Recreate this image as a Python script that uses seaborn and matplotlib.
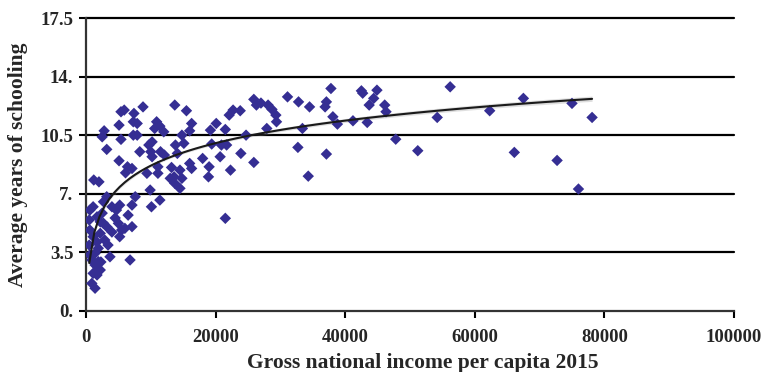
import matplotlib
matplotlib.use("Agg")
import matplotlib.pyplot as plt
import seaborn as sns
import pandas as pd

# Gross national income per capita 2015 (USD) and average years of schooling
gni = [
    62300, 67500, 75000, 78100, 66100, 72700, 76000, 56200, 54200, 51200,
    47800, 46100, 46300, 44900, 44400, 43700, 42500, 42700, 43400, 41200,
    38800, 38100, 37800, 37100, 36900, 37100, 34300, 32700, 33400, 34500,
    32800, 31100, 25900, 26300, 28100, 28700, 29300, 29400, 27900, 25900,
    27000, 15500, 16300, 16000, 14800, 20100, 19200, 21500, 22100, 22700,
    23800, 24700, 19400, 20900, 21700, 23900, 20700, 18000, 16000, 16300,
    19000, 18900, 22300, 14800, 14500, 21500, 15100, 13700, 5400, 5900,
    7400, 8800, 5100, 7300, 7900, 2800, 2500, 5400, 7300, 7900,
    3200, 10200, 10900, 11400, 12000, 8300, 9700, 10000, 10200, 11500,
    12100, 13800, 14100, 11100, 11100, 13200, 13600, 5100, 6100, 7100,
    6400, 2000, 1200, 13000, 13700, 9400, 9900, 11400, 10100, 7600,
    7100, 5200, 4700, 3200, 2700, 4000, 600, 1100, 1700, 2200,
    2700, 3200, 5000, 5500, 6000, 7100, 5200, 2200, 2900, 3400,
    1100, 600, 1400, 1900, 3700, 6800, 900, 1400, 1900, 2200,
    1100, 1700, 900, 1400, 500, 500, 600, 2500, 4000, 4500,
    6500, 2300, 1700, 14500, 10600,
]
schooling = [
    11.97, 12.71, 12.41, 11.57, 9.48, 9.00, 7.29, 13.40, 11.57, 9.58,
    10.27, 12.31, 11.91, 13.20, 12.71, 12.31, 13.16, 13.02, 11.27, 11.37,
    11.17, 11.61, 13.30, 12.50, 12.20, 9.38, 8.06, 9.78, 10.91, 12.20,
    12.50, 12.80, 12.65, 12.31, 12.31, 12.05, 11.71, 11.31, 10.91, 8.88,
    12.43, 11.97, 11.21, 10.77, 10.51, 11.21, 10.81, 10.85, 11.71, 12.01,
    11.97, 10.51, 9.98, 9.92, 9.92, 9.42, 9.22, 9.12, 8.82, 8.52,
    8.62, 8.02, 8.42, 7.93, 7.33, 5.54, 10.02, 12.31, 11.91, 12.01,
    11.81, 12.20, 11.11, 11.31, 11.21, 10.77, 10.41, 10.26, 10.51, 10.51,
    9.66, 10.11, 11.31, 11.05, 10.71, 9.52, 9.92, 9.52, 9.22, 9.52,
    9.32, 9.92, 9.42, 8.62, 8.23, 8.58, 8.02, 8.98, 8.26, 8.52,
    8.62, 7.72, 7.83, 7.93, 7.63, 8.23, 7.23, 6.63, 6.23, 6.83,
    6.33, 6.33, 6.03, 6.83, 6.53, 6.23, 6.03, 6.23, 5.63, 5.33,
    5.24, 5.04, 5.24, 4.84, 4.94, 5.04, 4.44, 4.64, 4.24, 3.94,
    4.44, 4.84, 3.45, 3.75, 3.24, 3.05, 3.05, 2.75, 2.95, 2.45,
    2.25, 2.15, 1.65, 1.36, 5.44, 3.94, 3.35, 5.85, 4.72, 5.56,
    5.73, 2.93, 4.12, 8.42, 10.91,
]

y_ticks = [0, 3.5, 7, 10.5, 14, 17.5]
y_tick_labels = ["0.", "3.5", "7.", "10.5", "14.", "17.5"]
x_ticks = [0, 20000, 40000, 60000, 80000, 100000]
x_tick_labels = ["0", "20000", "40000", "60000", "80000", "100000"]

df = pd.DataFrame({"gni": gni, "schooling": schooling})

sns.set_style("white")
plt.rcParams["font.family"] = ["Liberation Serif", "DejaVu Serif"]

fig = plt.figure(figsize=(7.61, 3.72), dpi=100)
ax = fig.add_axes([0.113, 0.164, 0.8515, 0.787])

for yv in y_ticks[1:]:
    ax.axhline(yv, color="black", lw=1.6, zorder=1, clip_on=False)

sns.scatterplot(data=df, x="gni", y="schooling", marker="D", s=34,
                color="#352E93", edgecolor="none", ax=ax, zorder=3)
sns.regplot(data=df, x="gni", y="schooling", logx=True, scatter=False,
            color="#1a1a1a", line_kws={"lw": 1.5, "zorder": 4}, ci=40,
            seed=0, ax=ax)

ax.set_xlim(0, 100000)
ax.set_ylim(0, 17.5)
ax.set_xticks(x_ticks)
ax.set_xticklabels(x_tick_labels, fontsize=13.5, fontweight="bold")
ax.set_yticks(y_ticks)
ax.set_yticklabels(y_tick_labels, fontsize=13.5, fontweight="bold")
ax.tick_params(axis="both", direction="out", length=5, width=1.5, color="black",
               left=True, bottom=True)
ax.tick_params(axis="x", pad=8)
ax.tick_params(axis="y", pad=4)

for side in ["top", "right"]:
    ax.spines[side].set_visible(False)
for side in ["left", "bottom"]:
    ax.spines[side].set_color("#333333")
    ax.spines[side].set_linewidth(1.6)

ax.set_xlabel("Gross national income per capita 2015", fontsize=15.5,
              fontweight="bold")
ax.set_ylabel("Average years of schooling", fontsize=15.5, fontweight="bold")
ax.xaxis.set_label_coords(0.52, -0.145)
ax.yaxis.set_label_coords(-0.09, 0.5)

fig.savefig("out.png", dpi=100)
